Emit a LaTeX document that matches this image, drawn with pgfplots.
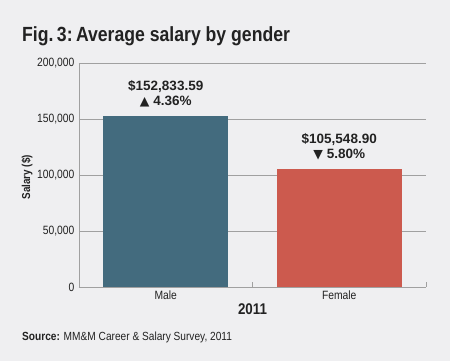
\documentclass[border=0pt]{standalone}
\usepackage{pgfplots}
\pgfplotsset{compat=1.18}
\usepackage{fontspec}
\setmainfont{Liberation Sans}
\newfontfamily\condfont[FakeStretch=0.86]{Liberation Sans}
\newfontfamily\symfont{DejaVu Sans}
\definecolor{bg}{HTML}{EFEFF1}
\definecolor{maleC}{HTML}{436B7E}
\definecolor{femC}{HTML}{CC5A4E}
\definecolor{axC}{HTML}{A0A0A0}
\definecolor{txt}{HTML}{222222}
\begin{document}
\begin{tikzpicture}[x=1pt,y=1pt]
\fill[bg] (0,0) rectangle (450,361);
\node[anchor=base west, inner sep=0, text=txt, font=\condfont\bfseries\fontsize{20.5}{22}\selectfont] at (22,319) {Fig.\,3:\,Average salary by gender};
\begin{axis}[
  at={(79pt,74pt)}, anchor=south west,
  scale only axis, width=347pt, height=224pt,
  xmin=-0.5, xmax=1.5, ymin=0, ymax=200000,
  axis x line*=bottom, axis y line*=left,
  axis line style={draw=axC, line width=0.8pt},
  ymajorgrids, grid style={draw=axC, line width=0.8pt},
  ytick={0,50000,100000,150000,200000},
  yticklabels={0,{50,000},{100,000},{150,000},{200,000}},
  scaled y ticks=false,
  xtick={0,1}, xticklabels={Male,Female},
  major tick style={draw=none},
  extra x ticks={0.5,1.5}, extra x tick labels={\mbox{},\mbox{}},
  extra x tick style={major tick style={draw=axC, line width=0.8pt}, major tick length=5pt, tick align=inside},
  tick label style={text=txt, font=\condfont\fontsize{12}{14}\selectfont},
  yticklabel style={xshift=-1pt},
  xlabel={2011},
  x label style={at={(axis description cs:0.5,0)}, anchor=north, yshift=-13pt, font=\condfont\bfseries\fontsize{15.5}{17}\selectfont, text=txt},
  ylabel={Salary (\$)},
  y label style={at={(axis description cs:-0.15,0.49)}, anchor=center, font=\condfont\bfseries\fontsize{11.5}{13}\selectfont, text=txt},
]
\addplot[ybar, fill=maleC, draw=none, bar width=125pt, bar shift=0pt]
  coordinates {(0,152833.59)};
\addplot[ybar, fill=femC, draw=none, bar width=125pt, bar shift=0pt]
  coordinates {(1,105548.90)};
\node[align=center, text=txt, font=\bfseries\fontsize{13.5}{15.5}\selectfont, anchor=south, yshift=5pt] at (axis cs:0,152833.59) {\$152,833.59\\{\symfont\fontsize{12.5}{12}\selectfont ▲} 4.36\%};
\node[align=center, text=txt, font=\bfseries\fontsize{13.5}{15.5}\selectfont, anchor=south, yshift=5pt] at (axis cs:1,105548.90) {\$105,548.90\\{\symfont\fontsize{12.5}{12}\selectfont ▼} 5.80\%};
\end{axis}
\node[anchor=base west, inner sep=0, text=txt, font=\condfont\fontsize{11.8}{13}\selectfont] at (22,20) {\textbf{Source:} MM\&M Career \& Salary Survey, 2011};
\end{tikzpicture}
\end{document}
